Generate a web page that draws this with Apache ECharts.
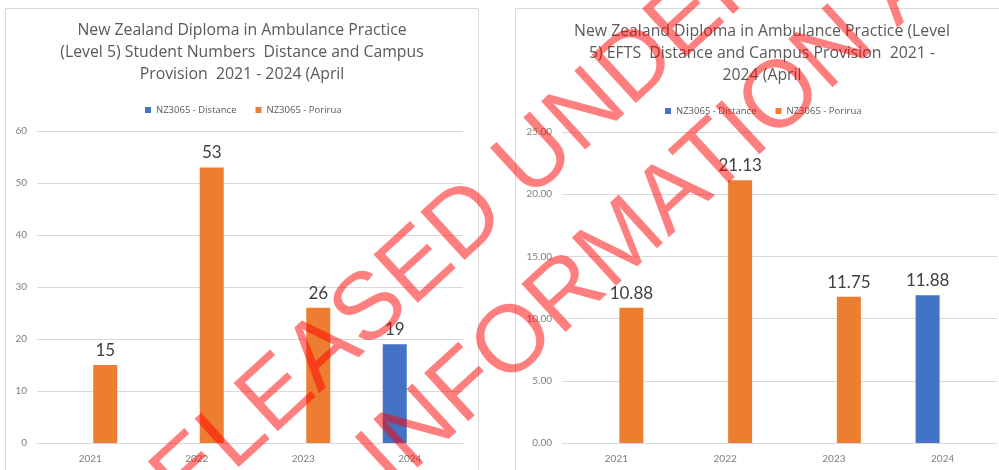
<!DOCTYPE html>
<html>
<head>
<meta charset="utf-8">
<script src="https://cdn.jsdelivr.net/npm/echarts@6/dist/echarts.min.js"></script>
<style>
html, body { margin: 0; padding: 0; background: #fff; }
#chart { width: 999px; height: 470px; }
</style>
</head>
<body>
<div id="chart"></div>
<script>
// data
var years = ['2021', '2022', '2023', '2024'];
var seriesNames = ['NZ3065 - Distance', 'NZ3065 - Porirua'];
var studentsDistance = [null, null, null, 19];
var studentsPorirua = [15, 53, 26, null];
var eftsDistance = [null, null, null, 11.88];
var eftsPorirua = [10.88, 21.13, 11.75, null];

var leftTitle = 'New Zealand Diploma in Ambulance Practice\n(Level 5) Student Numbers  Distance and Campus\nProvision  2021 - 2024 (April';
var rightTitle = 'New Zealand Diploma in Ambulance Practice (Level\n5) EFTS  Distance and Campus Provision  2021 -\n2024 (April';
var watermarkLines = ['RELEASED UNDER THE', 'OFFICIAL INFORMATION ACT'];

var BLUE = '#4472c4';
var ORANGE = '#ed7d31';
var font = 'Lato';
var titleFont = 'Open Sans';

var chart = echarts.init(document.getElementById('chart'));

function barSeries(name, data, color, idx, decimals) {
  return {
    name: name,
    type: 'bar',
    xAxisIndex: idx,
    yAxisIndex: idx,
    data: data,
    barWidth: 24,
    barGap: '25%',
    itemStyle: { color: color },
    label: {
      show: true,
      position: 'top',
      distance: 6,
      color: '#404040',
      fontSize: 17,
      fontFamily: font,
      formatter: function (p) { return decimals ? p.value.toFixed(decimals) : p.value; }
    }
  };
}

var ang = 42.5 * Math.PI / 180;

chart.setOption({
  animation: false,
  color: [BLUE, ORANGE],
  title: [
    {
      text: leftTitle, left: 242, top: 19, textAlign: 'center', padding: 0,
      textStyle: { color: '#595959', fontSize: 15.8, fontWeight: 'normal', fontFamily: titleFont, lineHeight: 22 }
    },
    {
      text: rightTitle, left: 762, top: 20, textAlign: 'center', padding: 0,
      textStyle: { color: '#595959', fontSize: 15.8, fontWeight: 'normal', fontFamily: titleFont, lineHeight: 22 }
    }
  ],
  legend: [
    {
      data: seriesNames, left: 140, top: 100, icon: 'rect', itemWidth: 6, itemHeight: 6, itemGap: 19,
      textStyle: { color: '#595959', fontSize: 9.5, fontFamily: titleFont }
    },
    {
      data: seriesNames, left: 660, top: 101, icon: 'rect', itemWidth: 6, itemHeight: 6, itemGap: 19,
      textStyle: { color: '#595959', fontSize: 9.5, fontFamily: titleFont }
    }
  ],
  grid: [
    { left: 37, right: 536, top: 131, bottom: 27 },
    { left: 562, right: 2, top: 132, bottom: 27 }
  ],
  xAxis: [0, 1].map(function (i) {
    return {
      type: 'category', gridIndex: i, data: years,
      axisLine: { lineStyle: { color: '#d9d9d9' } },
      axisTick: { show: false },
      axisLabel: { color: '#7f7f7f', fontSize: 10, fontFamily: font, margin: 11 }
    };
  }),
  yAxis: [
    {
      type: 'value', gridIndex: 0, min: 0, max: 60, interval: 10,
      splitLine: { lineStyle: { color: '#d9d9d9' } },
      axisLabel: { color: '#7f7f7f', fontSize: 10, fontFamily: font, margin: 10 }
    },
    {
      type: 'value', gridIndex: 1, min: 0, max: 25, interval: 5,
      splitLine: { lineStyle: { color: '#d9d9d9' } },
      axisLabel: {
        color: '#7f7f7f', fontSize: 10, fontFamily: font, margin: 10,
        formatter: function (v) { return v.toFixed(2); }
      }
    }
  ],
  series: [
    barSeries(seriesNames[0], studentsDistance, BLUE, 0, 0),
    barSeries(seriesNames[1], studentsPorirua, ORANGE, 0, 0),
    barSeries(seriesNames[0], eftsDistance, BLUE, 1, 2),
    barSeries(seriesNames[1], eftsPorirua, ORANGE, 1, 2)
  ],
  graphic: [
    // panel frames
    { type: 'rect', z: -1, shape: { x: 5.5, y: 8.5, width: 473, height: 480 }, style: { fill: 'none', stroke: '#d9d9d9', lineWidth: 1 } },
    { type: 'rect', z: -1, shape: { x: 515.5, y: 8.5, width: 500, height: 480 }, style: { fill: 'none', stroke: '#d9d9d9', lineWidth: 1 } },
    // watermark stamp over everything
    {
      type: 'text', z: 100, x: 118, y: 542, rotation: ang, silent: true,
      style: { text: watermarkLines[0], fill: 'rgba(255,0,0,0.5)', font: '95px "Liberation Sans"', align: 'left', verticalAlign: 'middle' }
    },
    {
      type: 'text', z: 100, x: 40, y: 778, rotation: ang, silent: true,
      style: { text: watermarkLines[1], fill: 'rgba(255,0,0,0.5)', font: '95px "Liberation Sans"', align: 'left', verticalAlign: 'middle' }
    }
  ]
});
</script>
</body>
</html>
